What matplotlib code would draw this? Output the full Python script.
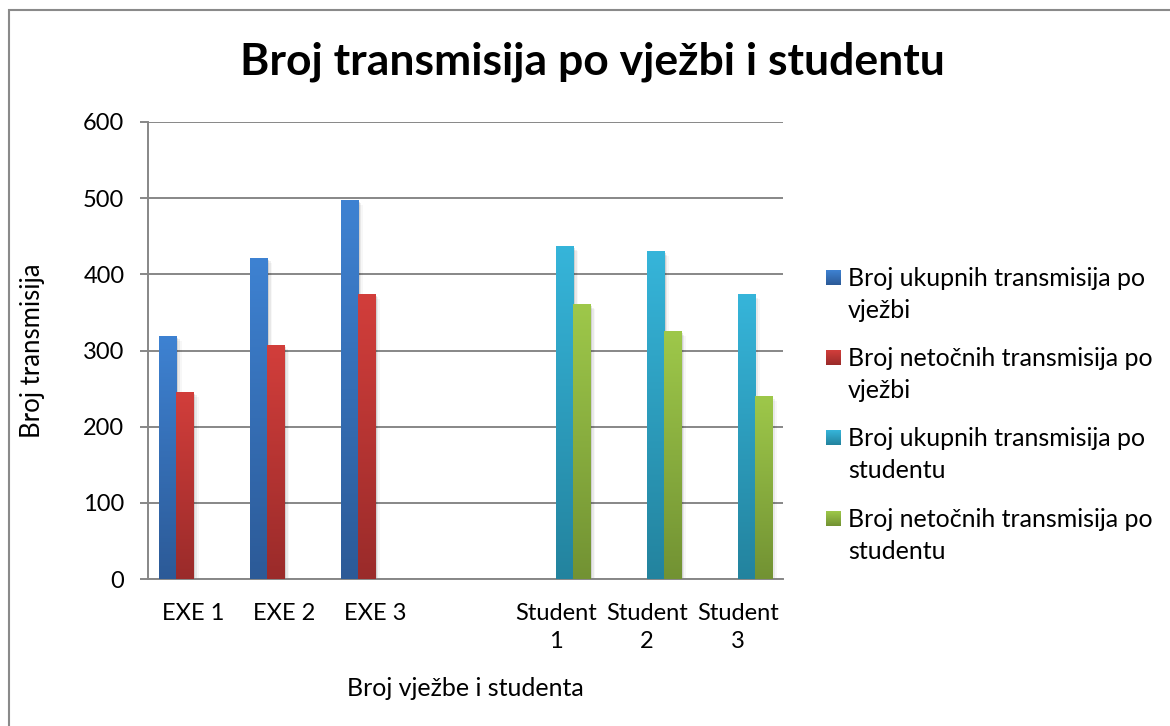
import numpy as np
import matplotlib
matplotlib.use("Agg")
import matplotlib.pyplot as plt
from matplotlib.patches import Rectangle
from matplotlib.colors import LinearSegmentedColormap

plt.rcParams['font.family'] = ['Lato', 'DejaVu Sans']

# ---- data ----
categories = ['EXE 1', 'EXE 2', 'EXE 3', '', 'Student\n1', 'Student\n2', 'Student\n3']
nan = np.nan
ukupno_vjezba = [319, 421, 497, nan, nan, nan, nan]
netocno_vjezba = [245, 306, 374, nan, nan, nan, nan]
ukupno_student = [nan, nan, nan, nan, 436, 430, 373]
netocno_student = [nan, nan, nan, nan, 360, 325, 240]
series_labels = ['Broj ukupnih transmisija po\nvježbi',
                 'Broj netočnih transmisija po\nvježbi',
                 'Broj ukupnih transmisija po\nstudentu',
                 'Broj netočnih transmisija po\nstudentu']
y_ticks = [0, 100, 200, 300, 400, 500, 600]
title = 'Broj transmisija po vježbi i studentu'
x_title = 'Broj vježbe i studenta'
y_title = 'Broj transmisija'

# gradient colours (top, bottom) for each series
grad = [('#3e82d2', '#2c5a97'),
        ('#d23e3b', '#9a2b2a'),
        ('#36b5da', '#23839e'),
        ('#9ec84a', '#729233')]

series = [ukupno_vjezba, netocno_vjezba, ukupno_student, netocno_student]

W, H = 1170, 726
fig = plt.figure(figsize=(W / 100, H / 100), dpi=100)
fig.patch.set_facecolor('white')

ax_l, ax_r, ax_t, ax_b = 148, 783, 122, 579
ax = fig.add_axes([ax_l / W, 1 - ax_b / H, (ax_r - ax_l) / W, (ax_b - ax_t) / H])

x = np.arange(len(categories))
n = len(series)
group = 0.75
bw = group / n
grid_c = '#878787'

for k, (vals, (ct, cb)) in enumerate(zip(series, grad)):
    offs = -group / 2 + bw * (k + 0.5)
    bars = ax.bar(x + offs, vals, width=bw, color='none', edgecolor='none', zorder=3)
    cmap = LinearSegmentedColormap.from_list('g%d' % k, [cb, ct])
    for b in bars:
        h = b.get_height()
        if not np.isfinite(h) or h <= 0:
            continue
        x0 = b.get_x()
        x1 = x0 + b.get_width()
        # soft shadow
        for i, a in enumerate([0.10, 0.06, 0.03]):
            d = 0.012 * (i + 1)
            ax.add_patch(Rectangle((x0 + d * 0.6, 0), b.get_width() + d, h - 2 * (i + 1),
                                   facecolor='#000000', alpha=a, edgecolor='none', zorder=2.5))
        gradient = np.linspace(1, 0, 256).reshape(-1, 1)
        ax.imshow(gradient, extent=[x0, x1, 0, h], aspect='auto', cmap=cmap,
                  origin='upper', zorder=3, interpolation='bilinear')

ax.set_xlim(-0.5, len(categories) - 0.5)
ax.set_ylim(0, 600)
ax.set_yticks(y_ticks)
ax.set_xticks(x)
ax.set_xticklabels(categories, fontsize=17, linespacing=1.45)
ax.tick_params(axis='x', length=0, pad=17)
ax.tick_params(axis='y', length=6, width=1.4, color=grid_c, pad=11, labelsize=17, direction='out')
ax.yaxis.grid(True, color=grid_c, linewidth=1.4, zorder=0)
ax.set_axisbelow(True)
for s in ['top', 'right']:
    ax.spines[s].set_visible(False)
for s in ['left', 'bottom']:
    ax.spines[s].set_color(grid_c)
    ax.spines[s].set_linewidth(1.4)

ax.set_ylabel(y_title, fontsize=18.5, va='center')
ax.yaxis.set_label_coords((33 - ax_l) / (ax_r - ax_l), 0.5)
ax.set_xlabel(x_title, fontsize=18, va='center')
ax.xaxis.set_label_coords(0.5, (ax_b - 689) / (ax_b - ax_t))

fig.text(592 / W, 1 - 62 / H, title, fontsize=32, fontweight='bold', ha='center', va='center')

# legend (manual, square aligned with first line)
entry_y = [277.5, 357.5, 437.5, 518.5]   # square centres (px from top)
for yy, (ct, cb), lab in zip(entry_y, grad, series_labels):
    cm = LinearSegmentedColormap.from_list('lg', [cb, ct])
    lax = fig.add_axes([826 / W, 1 - (yy + 7.5) / H, 15 / W, 15 / H])
    lax.imshow(np.linspace(1, 0, 64).reshape(-1, 1), aspect='auto', cmap=cm,
               extent=[0, 1, 0, 1], origin='upper')
    lax.set_axis_off()
    for j, line in enumerate(lab.split('\n')):
        fig.text(848 / W, 1 - (yy + 8.5 + 32 * j) / H, line, fontsize=18,
                 ha='left', va='baseline')

# chart border
fig.patches.append(Rectangle((9 / W, -0.02), 1.05, 1 - 10 / H + 0.02, transform=fig.transFigure,
                             facecolor='none', edgecolor='#8a8a8a', linewidth=1.5))

fig.savefig('out.png', dpi=100)
